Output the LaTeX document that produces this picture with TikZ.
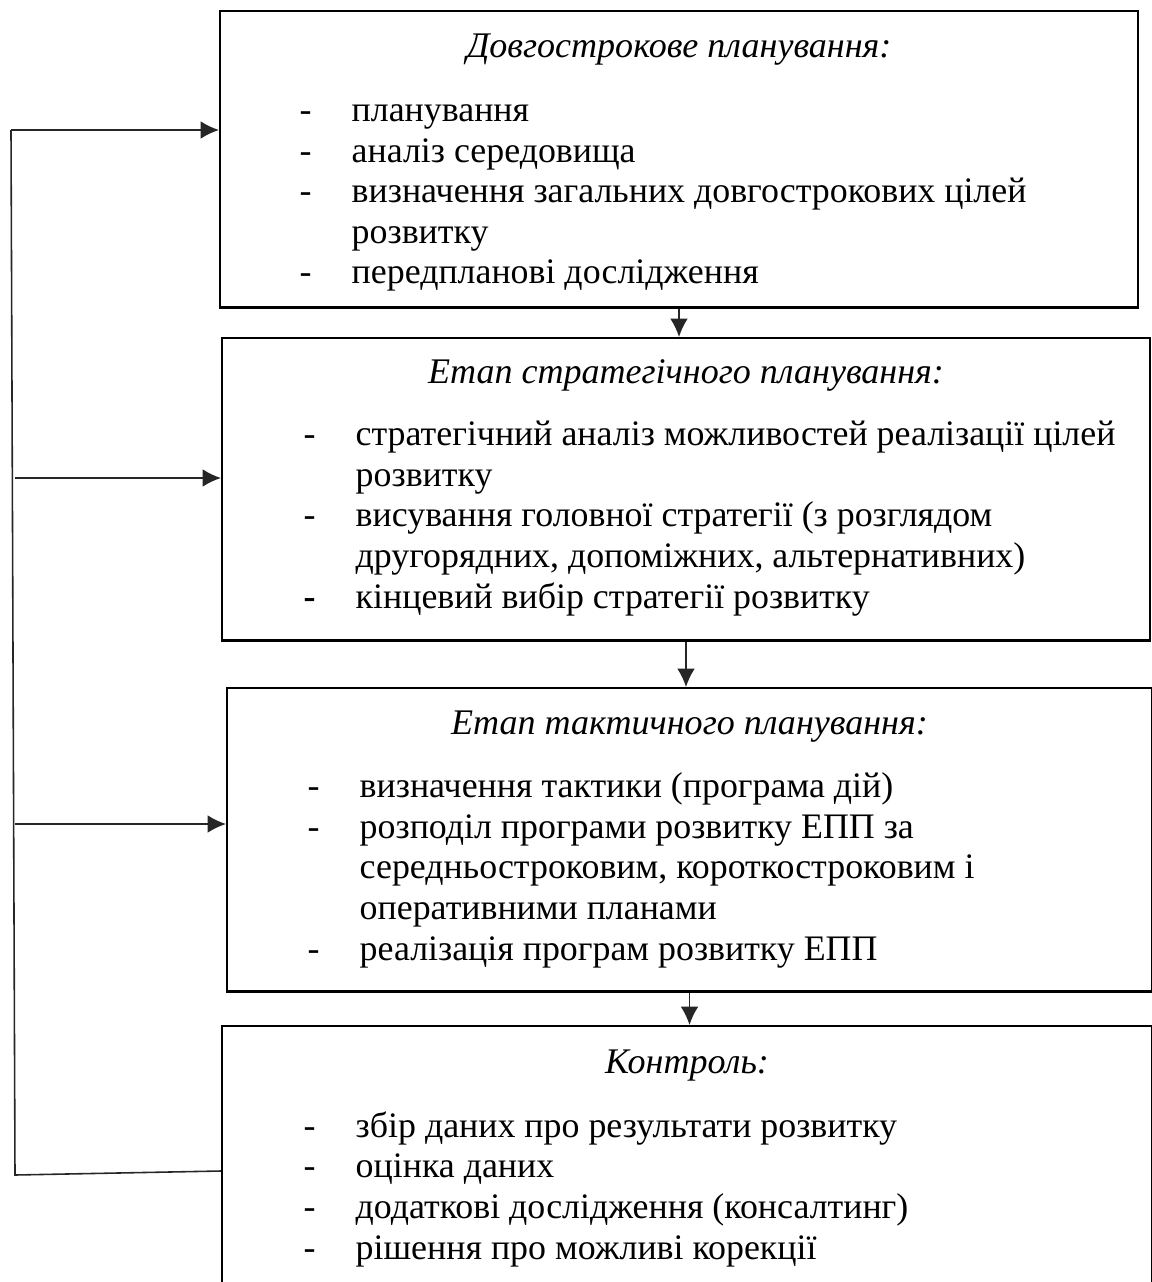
\documentclass[tikz,border=0pt]{standalone}
\usepackage{fontspec}
\setmainfont{Liberation Serif}
\usetikzlibrary{arrows.meta,positioning,calc}
\newcommand{\itm}{\makebox[0.52cm][l]{-}}
\newcommand{\itmb}{\makebox[0.52cm][l]{\textbf{-}}}
\newcommand{\ind}{\hspace*{0.52cm}}

\begin{document}
\begin{tikzpicture}[x=0.01cm,y=-0.01cm,>={Latex[length=5.2pt,width=5pt]}]
  \tikzstyle{frame}=[draw,line width=0.7pt,anchor=north west,inner sep=0pt]
  \tikzstyle{head}=[anchor=base,inner sep=0pt,font=\fontsize{10.25}{11.55}\selectfont\itshape]
  % lists are anchored at the baseline of their last line
  \tikzstyle{items}=[anchor=base west,inner sep=0pt,align=left,font=\fontsize{10.2}{11.55}\selectfont]
  \tikzstyle{link}=[line width=0.45pt,black!85]
  \useasboundingbox (0,0) rectangle (1151,1282);
  % boxes
  \node[frame,minimum width=9.17cm,minimum height=2.96cm] (long) at (219,10) {};
  \node[frame,minimum width=9.27cm,minimum height=3.02cm] (strat) at (221,337) {};
  \node[frame,minimum width=9.24cm,minimum height=3.03cm] (tact) at (226,687) {};
  \node[frame,minimum width=9.29cm,minimum height=4cm] (ctrl) at (221,1025) {};
  % titles
  \node[head] (longT) at ($(long.north)+(0,48)$) {Довгострокове планування:};
  \node[head] (stratT) at ($(strat.north)+(0,46)$) {Етап стратегічного планування:};
  \node[head] (tactT) at ($(tact.north)+(0,47)$) {Етап тактичного планування:};
  \node[head] (ctrlT) at ($(ctrl.north)+(0,48)$) {Контроль:};
  % lists
  \node[items] (longL) at ($(long.north west)+(80,274)$) {\itm планування\\
    \itm аналіз середовища\\
    \itm визначення загальних довгострокових цілей\\
    \ind розвитку\\
    \itm передпланові дослідження};
  \node[items] (stratL) at ($(strat.north west)+(82,271)$) {\itm стратегічний аналіз можливостей реалізації цілей\\
    \ind розвитку\\
    \itm висування головної стратегії (з розглядом\\
    \ind другорядних, допоміжних, альтернативних)\\
    \itmb кінцевий вибір стратегії розвитку};
  \node[items] (tactL) at ($(tact.north west)+(81,273)$) {\itm визначення тактики (програма дій)\\
    \itm розподіл програми розвитку ЕПП за\\
    \ind середньостроковим, короткостроковим і\\
    \ind оперативними планами\\
    \itm реалізація програм розвитку ЕПП};
  \node[items] (ctrlL) at ($(ctrl.north west)+(82,234)$) {\itm збір даних про результати розвитку\\
    \itm оцінка даних\\
    \itm додаткові дослідження (консалтинг)\\
    \itm рішення про можливі корекції};
  % arrows down
  \draw[link,->] (long.south) -- (long.south |- strat.north);
  \draw[link,->] (strat.south) -- (strat.south |- tact.north);
  \draw[link,->] (tact.south) -- (tact.south |- ctrl.north);
  % feedback
  \coordinate (busT) at (11,130);
  \coordinate (busB) at (15,1175);
  \draw[link] (ctrl.west |- 0,1171) -- (busB) -- (busT);
  \draw[link,->] (busT) -- (long.west |- busT);
  \draw[link,->] (busB |- 0,478) -- (strat.west |- 0,478);
  \draw[link,->] (busB |- 0,824) -- (tact.west |- 0,824);
\end{tikzpicture}
\end{document}
